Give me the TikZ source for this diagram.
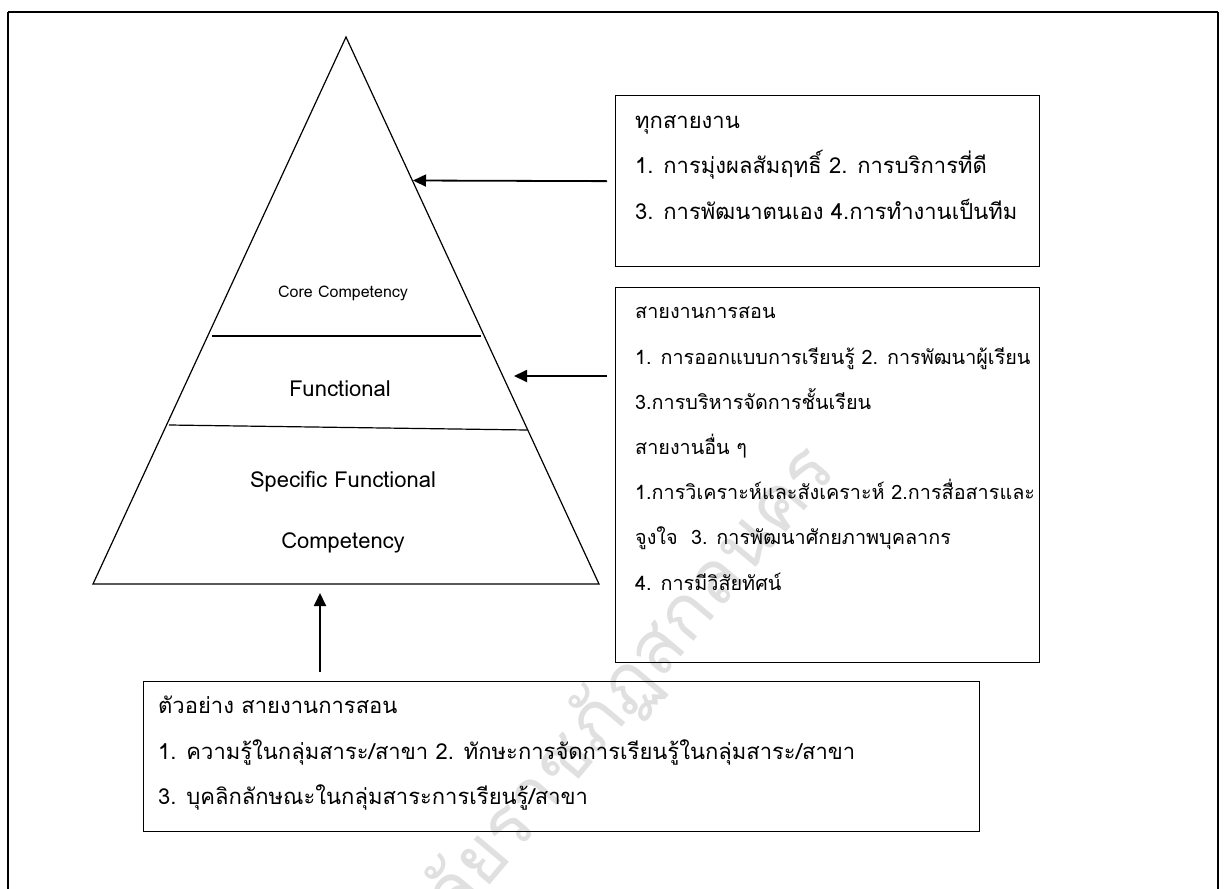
\documentclass[tikz,border=0pt]{standalone}
\usepackage{fontspec}
\newfontfamily\thaifont[Script=Thai]{Loma}
\usetikzlibrary{arrows.meta, calc, positioning}

\begin{document}
\begin{tikzpicture}[x=1pt, y=-1pt,
    frame/.style={draw, line width=1.6pt},
    infobox/.style={draw, line width=1.3pt, anchor=north west, inner sep=0pt},
    boxtext/.style={anchor=north west, align=left, inner sep=0pt, font=\thaifont\fontsize{22}{45.5}\selectfont},
    level/.style={align=center, font=\thaifont\fontsize{22}{61}\selectfont},
    arr/.style={-{Triangle[length=13pt, width=12pt]}, line width=1.8pt},
    watermark/.style={text=black!12, font=\thaifont\fontsize{74}{74}\selectfont}]
  \useasboundingbox (0,0) rectangle (1227,889);
  % watermark
  \node[watermark, rotate=50, anchor=base east] (wmark) at (840,468) {มหาวิทยาลัยราชภัฏสกลนคร};
  \draw[frame] (8,12) -- (1218,12) (8,12) -- (8,900) (1218,12) -- (1218,900);

  % pyramid
  \coordinate (apex) at (346,37);
  \coordinate (baseleft) at (93,584);
  \coordinate (baseright) at (599,584);
  \draw[line width=1.2pt] (apex) -- (baseright) -- (baseleft) -- cycle;
  \draw[line width=1.2pt] (212,336) -- (481,336);
  \draw[line width=1.2pt] (169,425) -- (527,430);
  \node[level, font=\thaifont\fontsize{16}{20}\selectfont] (core) at (343,293) {Core Competency};
  \node[level] (func) at (340,389) {Functional};
  \node[level] (spec) at (343,512) {Specific Functional\\Competency};

  % boxes
  \node[infobox, minimum width=424, minimum height=171] (allbox) at (615,95) {};
  \node[boxtext] (alltext) at (635,115) {ทุกสายงาน\\
    1. การมุ่งผลสัมฤทธิ์ 2. การบริการที่ดี\\
    3. การพัฒนาตนเอง 4.การทำงานเป็นทีม};
  \node[infobox, minimum width=424, minimum height=375] (teachbox) at (615,287) {};
  \node[boxtext, font=\thaifont\fontsize{19.8}{45.2}\selectfont] (teachtext) at (635,307) {สายงานการสอน\\
    1. การออกแบบการเรียนรู้ 2. การพัฒนาผู้เรียน\\
    3.การบริหารจัดการชั้นเรียน\\
    สายงานอื่น ๆ\\
    1.การวิเคราะห์และสังเคราะห์ 2.การสื่อสารและ\\
    จูงใจ~~3. การพัฒนาศักยภาพบุคลากร\\
    4. การมีวิสัยทัศน์};
  \node[infobox, minimum width=836, minimum height=150] (examplebox) at (143,681) {};
  \node[boxtext] (exampletext) at (158,696) {ตัวอย่าง สายงานการสอน\\
    1. ความรู้ในกลุ่มสาระ/สาขา 2. ทักษะการจัดการเรียนรู้ในกลุ่มสาระ/สาขา\\
    3. บุคลิกลักษณะในกลุ่มสาระการเรียนรู้/สาขา};

  % arrows
  \coordinate (coretip) at (413,180.5);
  \coordinate (functip) at (514,376);
  \coordinate (uptip) at (320,593);
  \draw[arr] ([xshift=-8pt]allbox.west) -- (coretip);
  \draw[arr] ($(teachbox.west |- functip)+(-8,0)$) -- (functip);
  \draw[arr] ($(uptip |- examplebox.north)+(0,-9)$) -- (uptip);
\end{tikzpicture}
\end{document}
